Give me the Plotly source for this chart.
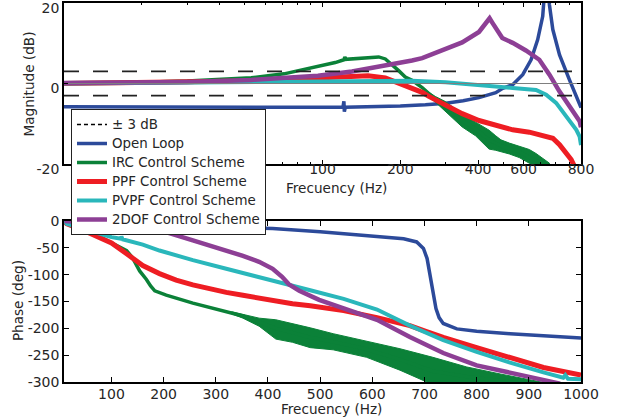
import plotly.graph_objects as go

# ---------------- Magnitude response (dB) ----------------
ol_mag_f = [10, 20, 40, 70, 100, 120, 121, 121.5, 122.5, 150, 200, 250, 300, 350, 403, 468, 498, 544,
            595, 641, 680, 711, 722, 733, 745, 755, 778, 826, 904, 950, 1000]
ol_mag = [-5.8, -5.9, -5.8, -5.9, -5.9, -5.9, -4.4, -7.0, -5.9, -5.8, -5.6, -5.3, -4.9, -4.3, -3.5, -2.3, -1.2, -0.3,
          2.2, 5.9, 10.9, 16.7, 21.0, 28.0, 24.0, 19.5, 13.4, 7.1, 0.8, -2.8, -6.0]

irc_mag_f = [10, 20, 30, 40, 53, 71, 96, 112, 121, 122, 123, 138, 150, 165, 175, 185, 197, 209, 222, 243, 258,
             273, 299, 347, 391, 441, 490, 577, 670, 755]
irc_mag = [0.2, 0.3, 0.6, 0.9, 1.4, 2.4, 4.2, 5.2, 5.9, 6.6, 6.0, 6.2, 6.4, 6.6, 6.1, 4.8, 3.2, 1.6, 0.8, -1.0, -2.5,
           -3.9, -5.6, -9.2, -11.3, -14.0, -15.5, -17.0, -19.2, -20.5]
# spread of the noisy IRC measurement above ~250 Hz
irc_band_f = [250, 273, 299, 347, 391, 420, 441, 468, 490, 528, 577, 631, 670, 710, 755]
irc_band_hi = [-1.6, -3.2, -4.5, -7.6, -9.6, -10.8, -11.6, -13.0, -14.0, -14.8, -15.6, -16.4, -17.4, -18.6, -19.8]
irc_band_lo = [-2.6, -4.6, -6.8, -10.8, -13.0, -15.0, -16.3, -16.6, -16.9, -17.5, -18.4, -19.8, -21, -21, -21]

ppf_mag_f = [10, 30, 50, 100, 130, 150, 175, 191, 205, 216, 222, 243, 258, 299, 347, 403, 468, 544, 631, 733,
             778, 826, 877, 916, 950]
ppf_mag = [0.0, 0.3, 0.6, 1.4, 1.8, 1.9, 1.4, 0.5, -0.3, -0.9, -1.3, -2.2, -3.2, -5.5, -7.5, -9.2, -10.5, -11.5,
           -12.1, -13.0, -13.6, -15.2, -17.3, -18.9, -21.0]

pvpf_mag_f = [10, 50, 100, 200, 222, 299, 403, 544, 670, 733, 801, 877, 959, 988, 1000]
pvpf_mag = [0.0, 0.3, 0.5, 0.6, 0.7, 0.3, -0.5, -1.1, -1.6, -2.8, -4.8, -8.2, -11.5, -13.2, -15.3]

dof_mag_f = [10, 30, 53, 71, 96, 130, 175, 222, 243, 299, 347, 403, 430, 443, 455, 468, 496, 544, 612, 690,
             755, 826, 904, 988, 1000]
dof_mag = [0.1, 0.4, 0.9, 1.4, 1.9, 3.0, 4.4, 5.7, 6.3, 8.4, 10.2, 12.8, 15.0, 16.2, 15.0, 13.8, 11.3, 10.1, 8.2,
           5.9, 2.2, -2.0, -5.7, -9.4, -10.9]

# reference levels on the magnitude plot
zero_db = 0
band_db = 3

# ---------------- Phase response (deg) ----------------
ol_ph_f = [10, 100, 200, 300, 409, 500, 545, 609, 660, 685, 698, 705, 710, 716, 722, 728, 736, 762, 800, 864,
           928, 1000]
ol_ph = [0, -4, -8, -11, -14, -20, -23.6, -28, -33, -39, -51, -70, -100, -135, -163, -180, -191, -201, -205.6,
         -210, -214, -218]

irc_ph_f = [10, 40, 65, 100, 119, 129, 140, 154, 167, 175, 183, 205, 256, 320, 352, 383, 415, 447, 481, 525,
            589, 653, 716, 781, 845, 909]
irc_ph = [0, -10, -23, -40, -51, -55, -68, -93, -109, -121, -130, -138, -153, -168, -177, -188, -200, -208,
          -217, -225, -239, -258, -280, -290, -298, -305]
irc_ph_band_f = [330, 352, 383, 415, 447, 481, 525, 589, 653, 716, 781, 845, 909, 950]
irc_ph_band_hi = [-169, -174, -181, -184, -191, -199, -210, -224, -238, -254, -272, -285, -297, -305]
irc_ph_band_lo = [-173, -181, -196, -220, -226, -236, -240, -254, -278, -305, -305, -305, -305, -305]

ppf_ph_f = [10, 14, 52, 100, 129, 160, 192, 224, 256, 288, 320, 352, 383, 415, 447, 481, 545, 609, 672, 704,
            736, 800, 864, 928, 1000]
ppf_ph = [0, -5, -20, -41, -61, -83, -98, -110, -119, -127, -133, -138.5, -144, -149, -154, -158, -167, -180,
          -195, -206, -217, -236, -255, -273, -287]

pvpf_ph_f = [10, 14, 65, 100, 118, 119, 121, 160, 192, 256, 320, 383, 447, 481, 545, 609, 672, 704, 736, 800,
             864, 928, 966, 970, 975, 1000]
pvpf_ph = [0, -5, -20, -30, -33, -29, -34, -44, -55, -73, -89, -104, -121, -129, -145, -165, -195, -208, -222,
           -244, -264, -282, -292, -287, -294, -295]

dof_ph_f = [10, 50, 100, 150, 192, 256, 320, 352, 383, 409, 427, 440, 460, 481, 498, 545, 609, 672, 736, 800,
            864, 928, 960]
dof_ph = [0, -2, -6, -11, -17, -36, -55, -65, -76, -89, -104, -118, -130, -140, -147, -163, -184, -216, -246,
          -269, -283, -297, -303]

# ---------------- axes ticks ----------------
mag_xticks = [100, 200, 400, 600, 1000]
mag_xtick_text = ["100", "200", "400", "600", "800"]
mag_xminor = [20, 30, 40, 50, 60, 70, 80, 90, 300, 500, 700, 800, 900]
mag_yticks = [-20, 0, 20]
mag_ytick_text = ["-20", "0", "20"]
ph_xticks = [100, 200, 300, 400, 500, 600, 700, 800, 900, 1000]
ph_yticks = [-300, -250, -200, -150, -100, -50, 0]

names = ["Open Loop", "IRC Control Scheme", "PPF Control Scheme", "PVPF Control Scheme", "2DOF Control Scheme"]
limit_name = "± 3 dB"
colors = ["#2c4a9a", "#0b8138", "#ee1d23", "#2ab7bb", "#8d3f95"]
widths = [3.5, 3.5, 5, 4, 4.5]

FONT = "DejaVu Sans"
TXT = "#262626"


def legend_label(text):
    # slightly larger glyphs than the legend's row pitch
    return f'<span style="font-size:13.4px">{text}</span>'


fig = go.Figure()

mag_sets = [(ol_mag_f, ol_mag), (irc_mag_f, irc_mag), (ppf_mag_f, ppf_mag), (pvpf_mag_f, pvpf_mag),
            (dof_mag_f, dof_mag)]
ph_sets = [(ol_ph_f, ol_ph), (irc_ph_f, irc_ph), (ppf_ph_f, ppf_ph), (pvpf_ph_f, pvpf_ph), (dof_ph_f, dof_ph)]

# legend-only entry for the +/-3 dB limits
fig.add_trace(go.Scatter(x=[None], y=[None], mode="lines", name=legend_label(limit_name),
                         line=dict(color="black", width=1.5, dash="4px,3px"), legendrank=1,
                         xaxis="x", yaxis="y"))

for i, (name, col, w) in enumerate(zip(names, colors, widths)):
    if i == 1:
        # noisy spread of the IRC measurement
        fig.add_trace(go.Scatter(x=irc_band_f + irc_band_f[::-1], y=irc_band_hi + irc_band_lo[::-1],
                                 fill="toself", fillcolor=col, line=dict(color=col, width=1),
                                 mode="lines", showlegend=False, hoverinfo="skip", xaxis="x", yaxis="y"))
        fig.add_trace(go.Scatter(x=irc_ph_band_f + irc_ph_band_f[::-1],
                                 y=irc_ph_band_hi + irc_ph_band_lo[::-1],
                                 fill="toself", fillcolor=col, line=dict(color=col, width=1),
                                 mode="lines", showlegend=False, hoverinfo="skip", xaxis="x2", yaxis="y2"))
    fx, fy = mag_sets[i]
    fig.add_trace(go.Scatter(x=fx, y=fy, mode="lines", name=legend_label(name), line=dict(color=col, width=w),
                             legendrank=i + 2, xaxis="x", yaxis="y"))
    px, py = ph_sets[i]
    fig.add_trace(go.Scatter(x=px, y=py, mode="lines", name=name, line=dict(color=col, width=w),
                             showlegend=False, xaxis="x2", yaxis="y2"))

# 0 dB reference and +/-3 dB limits
fig.add_trace(go.Scatter(x=[10, 1000], y=[zero_db, zero_db], mode="lines", showlegend=False,
                         line=dict(color="#7f7f7f", width=1.2), xaxis="x", yaxis="y"))
for lvl in (band_db, -band_db):
    fig.add_trace(go.Scatter(x=[10, 1000], y=[lvl, lvl], mode="lines", showlegend=False,
                             line=dict(color="#222222", width=1.8, dash="15px,14px"), xaxis="x", yaxis="y"))

axis_common = dict(showline=True, linecolor="black", linewidth=1.5, mirror="ticks", ticks="inside",
                   showgrid=False, zeroline=False, tickcolor="black", automargin=False,
                   ticklabeloverflow="allow",
                   tickfont=dict(family=FONT, size=14, color=TXT))

fig.update_layout(
    width=617, height=419,
    margin=dict(l=64, r=36, t=3, b=37),
    paper_bgcolor="white", plot_bgcolor="white",
    font=dict(family=FONT, size=13.5, color=TXT),
    showlegend=True,
    legend=dict(x=0.0135, y=0.7203, xanchor="left", yanchor="top", bgcolor="white",
                bordercolor="#222222", borderwidth=1, font=dict(family=FONT, size=12, color=TXT),
                tracegroupgap=0, itemwidth=30),
    xaxis=dict(axis_common, type="log", range=[1, 3], domain=[0, 1], anchor="y",
               tickmode="array", tickvals=mag_xticks, ticktext=mag_xtick_text, ticklen=4,
               ticklabelstandoff=-9,
               minor=dict(tickmode="array", tickvals=mag_xminor, ticks="inside", ticklen=2.5,
                          tickcolor="black", showgrid=False)),
    yaxis=dict(axis_common, range=[-20, 20], domain=[0.5752, 1], anchor="x",
               tickmode="array", tickvals=mag_yticks, ticktext=mag_ytick_text, ticklen=4,
               ticklabelshift=5),
    xaxis2=dict(axis_common, range=[9, 1000], domain=[0, 1], anchor="y2",
                tickmode="array", tickvals=ph_xticks, ticktext=[str(v) for v in ph_xticks], ticklen=5,
                ticklabelstandoff=-2),
    yaxis2=dict(axis_common, range=[-300, 0], domain=[0, 0.4248], anchor="x2",
                tickmode="array", tickvals=ph_yticks, ticktext=[str(v) for v in ph_yticks], ticklen=5),
    annotations=[
        dict(text="Magnitude (dB)", xref="paper", yref="paper", x=-0.067, y=0.786, textangle=-90,
             showarrow=False, xanchor="center", yanchor="middle", font=dict(size=13.6)),
        dict(text="Phase (deg)", xref="paper", yref="paper", x=-0.089, y=0.216, textangle=-90,
             showarrow=False, xanchor="center", yanchor="middle", font=dict(size=13.6)),
        dict(text="Frecuency (Hz)", xref="paper", yref="paper", x=0.527, y=0.512,
             showarrow=False, xanchor="center", yanchor="middle", font=dict(size=13.6)),
        dict(text="Frecuency (Hz)", xref="paper", yref="paper", x=0.518, y=-0.071,
             showarrow=False, xanchor="center", yanchor="middle", font=dict(size=13.6)),
    ],
)

fig.write_html("out.html")
